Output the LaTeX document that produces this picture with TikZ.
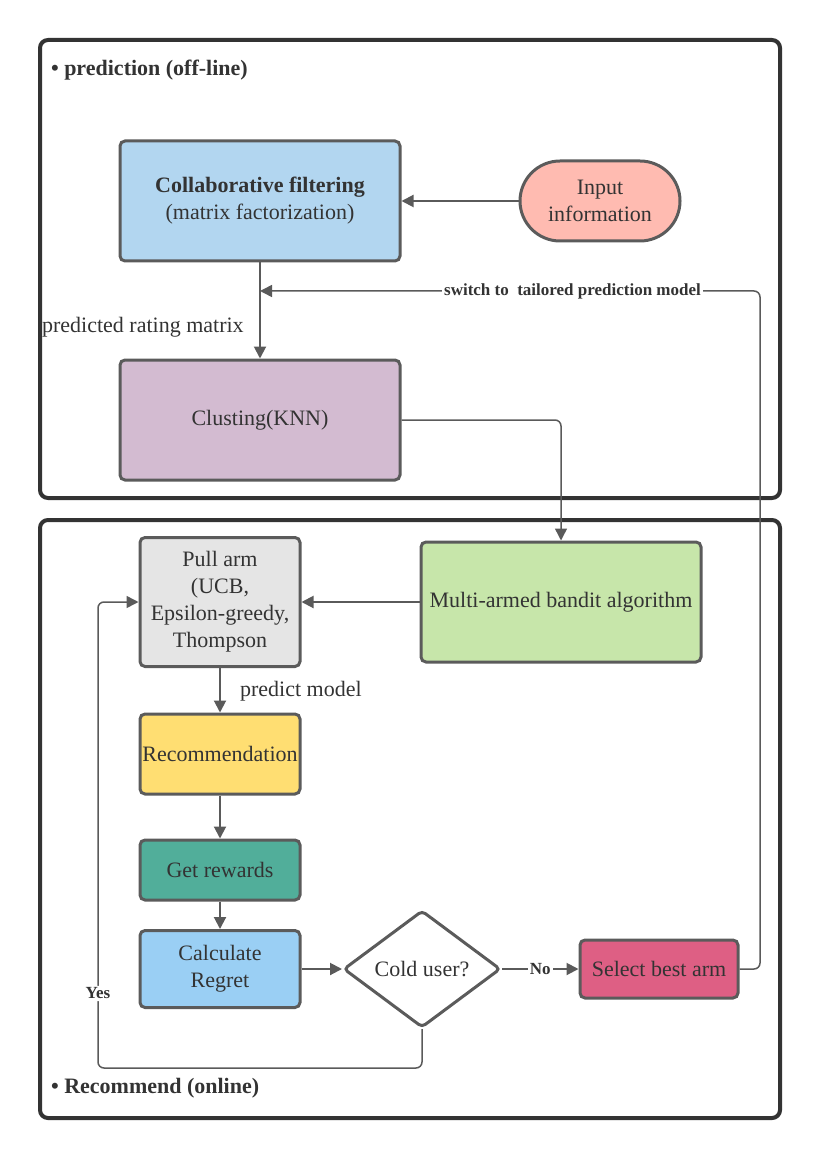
\documentclass[tikz,border=0pt]{standalone}
\usepackage{fontspec}
\setmainfont{Liberation Serif}
\usetikzlibrary{arrows.meta,shapes.geometric}
\definecolor{txt}{HTML}{333333}
\definecolor{edge}{HTML}{5B5B5B}
\definecolor{lnk}{HTML}{5A5A5A}
\definecolor{frm}{HTML}{333333}
\definecolor{cfblue}{HTML}{B2D6F0}
\definecolor{inpink}{HTML}{FFBBB1}
\definecolor{clupurple}{HTML}{D3BBD1}
\definecolor{mabgreen}{HTML}{C7E6AA}
\definecolor{pullgray}{HTML}{E5E5E5}
\definecolor{recyellow}{HTML}{FFDE72}
\definecolor{rewteal}{HTML}{51AE9A}
\definecolor{regblue}{HTML}{9ACFF4}
\definecolor{selred}{HTML}{DE5F84}
\begin{document}
\begin{tikzpicture}[x=0.5pt, y=-0.5pt,
    every node/.style={font=\fontsize{11}{13.5}\selectfont, text=txt},
    box/.style={draw=edge, line width=1.5pt, rounded corners=2.5pt, align=center, inner sep=2pt},
    arr/.style={draw=lnk, line width=1pt, -{Triangle[length=6pt,width=6pt]}},
    thinarr/.style={draw=lnk, line width=0.75pt, rounded corners=3pt, -{Triangle[length=6pt,width=6pt]}},
    frame/.style={draw=frm, line width=2pt, rounded corners=4pt},
    lbl/.style={font=\bfseries\fontsize{8.5}{9}\selectfont, fill=white, inner sep=1pt}]
    \useasboundingbox (0,0) rectangle (820,1160);
    % Two stage frames
    \draw[frame] (40,40) rectangle (780,498);
    \draw[frame] (40,520) rectangle (780,1118);
    \node[anchor=west, font=\bfseries\fontsize{11}{13}\selectfont] (offtitle) at (44,70){\textbullet\ prediction (off-line)};
    \node[anchor=west, font=\bfseries\fontsize{11}{13}\selectfont] (ontitle) at (44,1088){\textbullet\ Recommend (online)};
    % Off-line part
    \node[box, fill=cfblue, minimum width=140pt, minimum height=60pt] (cf) at (260,201)
        {{\bfseries Collaborative filtering}\\(matrix factorization)};
    \node[box, fill=inpink, rounded corners=20pt, minimum width=80pt, minimum height=40pt] (inp) at (600,201)
        {Input\\information};
    \node[box, fill=clupurple, minimum width=140pt, minimum height=60pt] (clu) at (260,420){Clusting(KNN)};
    % On-line part
    \node[box, fill=mabgreen, minimum width=140pt, minimum height=60pt] (mab) at (561,602){Multi-armed bandit algorithm};
    \node[box, fill=pullgray, minimum width=80pt, minimum height=64.5pt] (pull) at (220,602)
        {Pull arm\\(UCB,\\Epsilon-greedy,\\Thompson};
    \node[box, fill=recyellow, minimum width=80pt, minimum height=40pt, inner sep=0pt] (rec) at (220,754){Recommendation};
    \node[box, fill=rewteal, minimum width=80pt, minimum height=30pt] (rew) at (220,870){Get rewards};
    \node[box, fill=regblue, minimum width=80pt, minimum height=38.5pt] (reg) at (220,969){Calculate\\Regret};
    \node[box, fill=white, shape=diamond, aspect=1.34, minimum width=78.5pt, minimum height=58.5pt, inner sep=0pt,
        rounded corners=2pt] (cold) at (422,969){Cold user?};
    \node[box, fill=selred, minimum width=79pt, minimum height=29pt] (sel) at (659,969){Select best arm};
    \coordinate (swend) at (260,291);
    % Connectors
    \draw[arr] (inp) -- (cf);
    \draw[arr] (cf) -- (clu);
    \node[anchor=west] (prm) at (35,327){predicted rating matrix};
    \draw[thinarr] (clu.east) -| (mab.north);
    \draw[arr] (mab) -- (pull);
    \foreach \a/\b in {pull/rec, rec/rew, rew/reg}
        \draw[arr] (\a) -- (\b);
    \node[anchor=west] (pm) at (233,691){predict model};
    \draw[arr] (reg) -- (cold);
    \draw[arr] (cold) -- node[lbl]{No} (sel);
    % Feedback loops
    \draw[thinarr] (cold.south) |- (98,1068) -- node[lbl, pos=0.16]{Yes} (98,602) -- (pull.west);
    \draw[thinarr] (sel.east) -- (760,969) -- (760,291) -- node[lbl, pos=0.375]{switch to \ tailored prediction model} (swend);
\end{tikzpicture}
\end{document}
